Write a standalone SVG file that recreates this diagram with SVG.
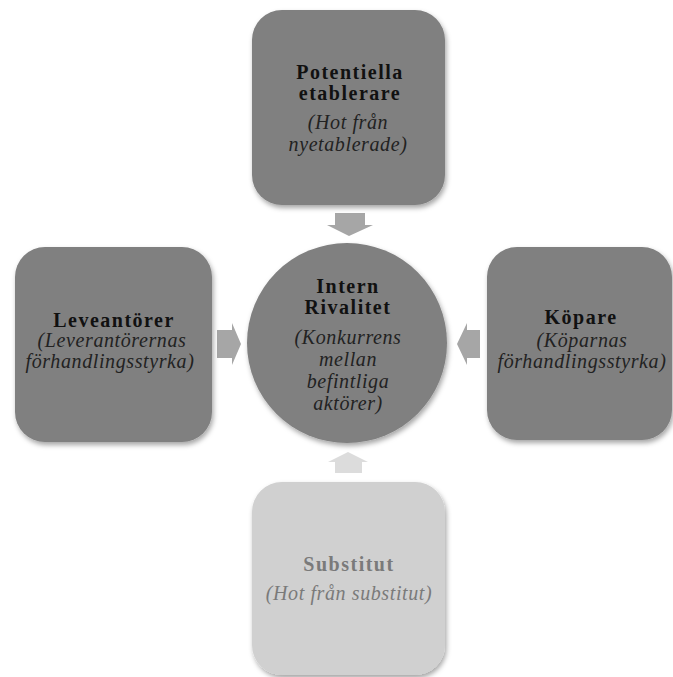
<svg xmlns="http://www.w3.org/2000/svg" width="673" height="677" viewBox="0 0 673 677">
<style>
.t{font-family:"Liberation Serif","Times New Roman",serif;font-size:20px;font-weight:bold;letter-spacing:1.5px;fill:#111;text-anchor:middle}
.s{font-family:"Liberation Serif","Times New Roman",serif;font-size:20px;font-style:italic;letter-spacing:0.6px;fill:#222;text-anchor:middle}
.dark{fill:#808080;filter:url(#sh)}
.light{fill:#d0d0d0;filter:url(#sh)}
.arr{fill:#a6a6a6}
.arrl{fill:#dcdcdc}
.gt{fill:#7a7a7a}
</style>
<defs>
<filter id="sh" x="-10%" y="-10%" width="125%" height="125%">
<feDropShadow dx="1.5" dy="3" stdDeviation="2.5" flood-color="#000" flood-opacity="0.35"/>
</filter>
</defs>
<rect width="673" height="677" fill="#fff"/>
<g id="connectors">
<polygon class="arr" points="335,213 365,213 365,225 373,225 349,236 327,225 335,225"/>
<polygon class="arr" points="217,330 232,330 232,323 241,344 232,365 232,358 217,358"/>
<polygon class="arr" points="480,330 467,330 467,323 457,344 467,365 467,358 480,358"/>
<polygon class="arrl" points="335,473 362,473 362,462 368,462 348,452 328,462 335,462"/>
</g>
<g id="node-potentiella">
<rect class="dark" x="252" y="10" width="193" height="195" rx="30"/>
<text class="t" x="350" y="79">Potentiella</text>
<text class="t" x="350" y="100">etablerare</text>
<text class="s" x="348" y="129">(Hot från</text>
<text class="s" x="348" y="151">nyetablerade)</text>
</g>
<g id="node-leverantorer">
<rect class="dark" x="15" y="247" width="197" height="195" rx="30"/>
<text class="t" x="114" y="327">Leveantörer</text>
<text class="s" x="112" y="347">(Leverantörernas</text>
<text class="s" x="110" y="368">förhandlingsstyrka)</text>
</g>
<g id="node-intern">
<circle class="dark" cx="347" cy="343" r="100"/>
<text class="t" x="348" y="293">Intern</text>
<text class="t" x="348" y="314">Rivalitet</text>
<text class="s" x="348" y="344">(Konkurrens</text>
<text class="s" x="348" y="366">mellan</text>
<text class="s" x="348" y="388">befintliga</text>
<text class="s" x="348" y="410">aktörer)</text>
</g>
<g id="node-kopare">
<rect class="dark" x="487" y="247" width="185" height="193" rx="30"/>
<text class="t" x="581" y="324">Köpare</text>
<text class="s" x="582" y="347">(Köparnas</text>
<text class="s" x="582" y="368">förhandlingsstyrka)</text>
</g>
<g id="node-substitut">
<rect class="light" x="252" y="482" width="193" height="193" rx="30"/>
<text class="t gt" x="349" y="571">Substitut</text>
<text class="s gt" x="349" y="600">(Hot från substitut)</text>
</g>
</svg>
